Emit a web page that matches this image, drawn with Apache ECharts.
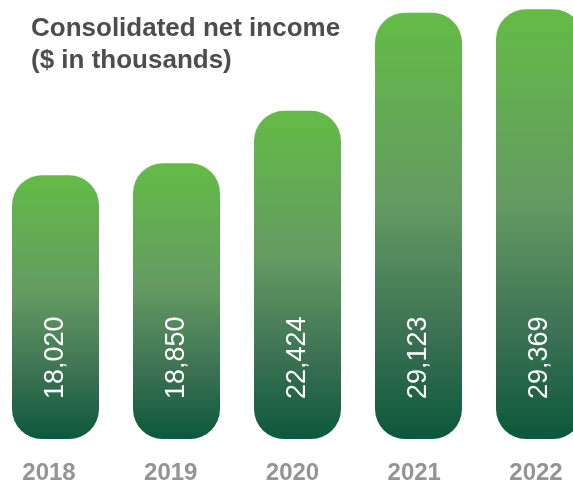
<!DOCTYPE html>
<html>
<head>
<meta charset="utf-8">
<script src="https://cdn.jsdelivr.net/npm/echarts@6/dist/echarts.min.js"></script>
<style>
  html, body { margin: 0; padding: 0; background: #ffffff; overflow: hidden; }
  #chart { width: 573px; height: 481px; }
</style>
</head>
<body>
<div id="chart"></div>
<script>
// Consolidated net income by year, $ in thousands
const years = ['2018', '2019', '2020', '2021', '2022'];
const netIncome = [18020, 18850, 22424, 29123, 29369];

const chart = echarts.init(document.getElementById('chart'), null, { renderer: 'canvas' });

const barGradient = new echarts.graphic.LinearGradient(0, 0, 0, 1, [
  { offset: 0, color: '#63bc46' },
  { offset: 0.45, color: '#649a62' },
  { offset: 0.75, color: '#3c7253' },
  { offset: 1, color: '#0c583b' }
]);

// Columns sit on a numeric x scale so the last one can run off the right edge
const plotWidth = 573;
const barSlot = 121;
const barFirstCenter = 55.5;
// Year captions sit a little left of the column centres
const yearSlot = 121.75;
const yearFirstCenter = 49;

const yearLabelStyle = {
  customValues: years.map((_, i) => i),
  formatter: v => years[Math.round(v)],
  margin: 22,
  fontFamily: 'Liberation Sans',
  fontSize: 24,
  fontWeight: 'bold',
  color: '#959393'
};

chart.setOption({
  animation: false,
  backgroundColor: '#ffffff',
  title: {
    text: 'Consolidated net income\n($ in thousands)',
    left: 31,
    top: 13,
    padding: 0,
    textStyle: {
      fontFamily: 'Liberation Sans',
      fontSize: 26,
      fontWeight: 'bold',
      lineHeight: 32,
      color: '#4d4d4f'
    }
  },
  grid: {
    left: 0,
    right: 0,
    top: 0,
    bottom: 42,
    containLabel: false,
    outerBoundsMode: 'none'
  },
  xAxis: [
    {
      type: 'value',
      min: -barFirstCenter / barSlot,
      max: (plotWidth - barFirstCenter) / barSlot,
      axisLine: { show: false },
      axisTick: { show: false },
      splitLine: { show: false },
      axisLabel: { show: false }
    },
    {
      type: 'value',
      position: 'bottom',
      min: -yearFirstCenter / yearSlot,
      max: (plotWidth - yearFirstCenter) / yearSlot,
      axisLine: { show: false },
      axisTick: { show: false },
      splitLine: { show: false },
      axisLabel: yearLabelStyle
    }
  ],
  yAxis: {
    type: 'value',
    min: 0,
    max: 30000,
    show: false,
    splitLine: { show: false }
  },
  series: [{
    type: 'bar',
    xAxisIndex: 0,
    data: netIncome.map((v, i) => [i, v]),
    barWidth: 87,
    itemStyle: {
      color: barGradient,
      borderRadius: 30
    },
    label: {
      show: true,
      position: 'insideBottom',
      distance: 40,
      rotate: 90,
      align: 'left',
      verticalAlign: 'middle',
      fontFamily: 'Liberation Sans',
      fontSize: 27,
      color: '#ffffff',
      formatter: p => p.value[1].toLocaleString('en-US')
    }
  }]
});
</script>
</body>
</html>
